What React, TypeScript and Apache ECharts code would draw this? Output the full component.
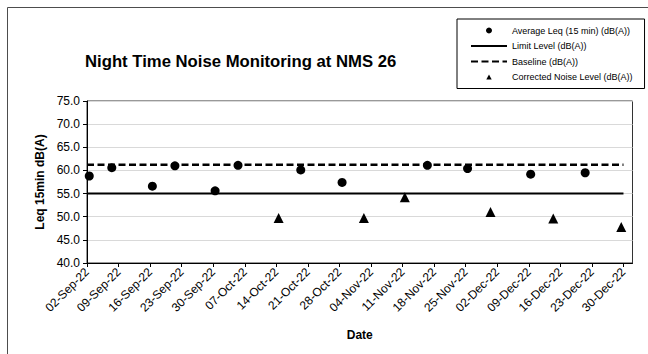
import React, { useEffect, useRef } from "react";
import * as echarts from "echarts";

// ---- data ----
const tickLabels = [
  "02-Sep-22", "09-Sep-22", "16-Sep-22", "23-Sep-22", "30-Sep-22", "07-Oct-22",
  "14-Oct-22", "21-Oct-22", "28-Oct-22", "04-Nov-22", "11-Nov-22", "18-Nov-22",
  "25-Nov-22", "02-Dec-22", "09-Dec-22", "16-Dec-22", "23-Dec-22", "30-Dec-22",
];

const avgDates = [
  "2022-09-02 12:00", "2022-09-07 12:00", "2022-09-16 12:00", "2022-09-21 12:00",
  "2022-09-30 10:00", "2022-10-05 12:00", "2022-10-19 10:00", "2022-10-28 14:00",
  "2022-11-16 12:00", "2022-11-25 10:00", "2022-12-09 10:00", "2022-12-21 12:00",
];
const avgValues = [58.8, 60.6, 56.6, 61.0, 55.6, 61.1, 60.1, 57.4, 61.1, 60.4, 59.2, 59.5];

const corrDates = [
  "2022-10-14 12:00", "2022-11-02 10:00", "2022-11-11 12:00",
  "2022-11-30 12:00", "2022-12-14 10:00", "2022-12-29 12:00",
];
const corrValues = [49.7, 49.7, 54.2, 51.0, 49.6, 47.8];

const lineDates = ["2022-09-02", "2022-12-30"];
const limitLevel = 55.0;
const baselineLevel = 61.2;

const axisStart = "2022-09-02";
const axisEnd = "2023-01-01";

const yMin = 40;
const yMax = 75;
const yStep = 5;

const seriesNames = [
  "Average Leq (15 min) (dB(A))",
  "Limit Level (dB(A))",
  "Baseline (dB(A))",
  "Corrected Noise Level (dB(A))",
];

// ---- helpers ----
const START = (() => {
  const [y, m, d] = axisStart.split("-").map(Number);
  return Date.UTC(y, m - 1, d);
})();

function dayOf(s: string): number {
  const [d, t = "00:00"] = s.split(" ");
  const [y, m, dd] = d.split("-").map(Number);
  const [h, mi] = t.split(":").map(Number);
  return (Date.UTC(y, m - 1, dd, h, mi) - START) / 86400000;
}

const MONTHS: Record<string, number> = {
  Jan: 1, Feb: 2, Mar: 3, Apr: 4, May: 5, Jun: 6, Jul: 7, Aug: 8, Sep: 9, Oct: 10, Nov: 11, Dec: 12,
};
function labelDay(lbl: string): number {
  const [d, mon, yy] = lbl.split("-");
  return (Date.UTC(2000 + Number(yy), MONTHS[mon] - 1, Number(d)) - START) / 86400000;
}

const tickValues = tickLabels.map(labelDay);
const FONT = "Liberation Sans, Arial, sans-serif";
const HIDDEN = { color: "rgba(0,0,0,0)", borderWidth: 0, opacity: 0 };
// small triangle centred in a 36x6 legend icon box
const LEGEND_TRIANGLE = "path://M0,0M36,6M18,0.6L20.7,5.6L15.3,5.6Z";

export default function App() {
  const ref = useRef<HTMLDivElement>(null);

  useEffect(() => {
    if (!ref.current) return;
    const chart = echarts.init(ref.current, undefined, { renderer: "svg" });
    const labelMap = new Map<number, string>();
    tickValues.forEach((v, i) => labelMap.set(Math.round(v), tickLabels[i]));

    chart.setOption({
      animation: false,
      backgroundColor: "#ffffff",
      textStyle: { fontFamily: FONT },
      title: {
        text: "Night Time Noise Monitoring at NMS 26",
        left: 85,
        top: 53,
        padding: 0,
        textStyle: { fontFamily: FONT, fontSize: 16.7, fontWeight: "bold", color: "#000" },
      },
      graphic: [
        {
          type: "rect",
          x: 7.5,
          y: 7.5,
          silent: true,
          z: -10,
          shape: { x: 0, y: 0, width: 700, height: 400 },
          style: { fill: "none", stroke: "#4d4d4d", lineWidth: 1 },
        },
      ],
      legend: {
        orient: "vertical",
        left: 457,
        top: 19,
        itemWidth: 36,
        itemHeight: 6,
        itemGap: 6.5,
        padding: [7, 12, 7, 13],
        borderColor: "#000",
        borderWidth: 1,
        backgroundColor: "#fff",
        textStyle: { fontFamily: FONT, fontSize: 9, color: "#000" },
        data: [
          { name: seriesNames[0], icon: "circle" },
          { name: seriesNames[1], itemStyle: HIDDEN },
          { name: seriesNames[2], itemStyle: HIDDEN },
          { name: seriesNames[3], icon: LEGEND_TRIANGLE },
        ],
      },
      grid: {
        left: 87,
        top: 101,
        right: 15.5,
        bottom: 91,
        show: true,
        borderColor: "#333",
        borderWidth: 1,
        backgroundColor: "#fff",
      },
      xAxis: {
        type: "value",
        min: 0,
        max: dayOf(axisEnd),
        name: "Date",
        nameLocation: "middle",
        nameGap: 66,
        nameTextStyle: { fontFamily: FONT, fontSize: 12, fontWeight: "bold", color: "#000" },
        axisLine: { show: true, lineStyle: { color: "#000", width: 1 } },
        axisTick: {
          show: true,
          length: 4,
          customValues: tickValues,
          lineStyle: { color: "#000" },
        },
        axisLabel: {
          customValues: tickValues,
          rotate: 45,
          margin: 7,
          fontFamily: FONT,
          fontSize: 12,
          color: "#000",
          formatter: (v: number) => labelMap.get(Math.round(v)) ?? "",
        },
        splitLine: { show: false },
      },
      yAxis: {
        type: "value",
        min: yMin,
        max: yMax,
        interval: yStep,
        name: "Leq 15min dB(A)",
        nameLocation: "middle",
        nameGap: 38,
        nameTextStyle: { fontFamily: FONT, fontSize: 12, fontWeight: "bold", color: "#000" },
        axisLine: { show: true, lineStyle: { color: "#000", width: 1 } },
        axisTick: { show: true, length: 4, lineStyle: { color: "#000" } },
        axisLabel: {
          margin: 7,
          fontFamily: FONT,
          fontSize: 12,
          color: "#000",
          formatter: (v: number) => v.toFixed(1),
        },
        splitLine: { show: true, lineStyle: { color: "#d9d9d9", width: 1 } },
      },
      series: [
        {
          name: seriesNames[1],
          type: "line",
          symbol: "none",
          data: lineDates.map((d) => [dayOf(d), limitLevel]),
          lineStyle: { color: "#000", width: 2 },
          itemStyle: { color: "#000" },
          z: 2,
        },
        {
          name: seriesNames[2],
          type: "line",
          symbol: "none",
          data: lineDates.map((d) => [dayOf(d), baselineLevel]),
          lineStyle: { color: "#000", width: 2.5, type: [7, 3.5] },
          itemStyle: { color: "#000" },
          z: 2,
        },
        {
          name: seriesNames[0],
          type: "scatter",
          symbol: "circle",
          symbolSize: 9,
          data: avgDates.map((d, i) => [dayOf(d), avgValues[i]]),
          itemStyle: { color: "#000", opacity: 1 },
          z: 3,
        },
        {
          name: seriesNames[3],
          type: "scatter",
          symbol: "triangle",
          symbolSize: 10,
          data: corrDates.map((d, i) => [dayOf(d), corrValues[i]]),
          itemStyle: { color: "#000", opacity: 1 },
          z: 3,
        },
      ],
    });
    return () => chart.dispose();
  }, []);

  return (
    <div
      ref={ref}
      style={{ position: "fixed", left: 0, top: 0, width: 648, height: 354, background: "#fff" }}
    />
  );
}
